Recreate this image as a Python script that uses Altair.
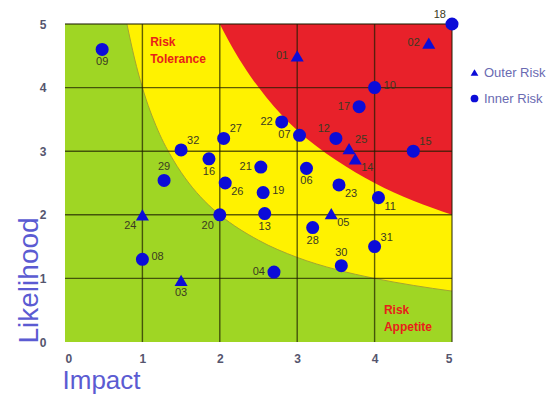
import altair as alt
import pandas as pd

# ---- data ----
ids = ["01","02","03","04","05","06","07","08","09","10","11","12","13","14","15","16",
       "17","18","19","20","21","22","23","24","25","26","27","28","29","30","31","32"]
impact = [3.0, 4.7, 1.5, 2.7, 3.44, 3.12, 3.03, 1.0, 0.48, 4.0, 4.05, 3.5, 2.58, 3.75, 4.5, 1.86,
          3.8, 5.0, 2.56, 2.0, 2.53, 2.8, 3.54, 1.0, 3.67, 2.07, 2.05, 3.2, 1.28, 3.57, 4.0, 1.5]
likelihood = [4.5, 4.7, 0.97, 1.1, 2.02, 2.73, 3.25, 1.3, 4.6, 4.0, 2.27, 3.2, 2.02, 2.88, 3.0, 2.88,
              3.7, 5.0, 2.35, 2.0, 2.75, 3.46, 2.47, 2.0, 3.04, 2.5, 3.2, 1.8, 2.54, 1.2, 1.5, 3.02]
kind = ["Outer Risk","Outer Risk","Outer Risk","Inner Risk","Outer Risk","Inner Risk","Inner Risk","Inner Risk",
        "Inner Risk","Inner Risk","Inner Risk","Inner Risk","Inner Risk","Outer Risk","Inner Risk","Inner Risk",
        "Inner Risk","Inner Risk","Inner Risk","Inner Risk","Inner Risk","Inner Risk","Inner Risk","Outer Risk",
        "Outer Risk","Inner Risk","Inner Risk","Inner Risk","Inner Risk","Inner Risk","Inner Risk","Inner Risk"]
label_side = ["l","l","b","l","lr","b","l","r","b","r","lr","ul","b","lr","ur","b",
              "l","ul","r","ll","l","l","lr","ll","ur","lr","ur","b","a","a","ur","ur"]

# zone boundaries
appetite_x = [0.8, 0.9, 1.0, 1.2, 1.4, 1.6, 1.8, 2.0, 2.5, 3.0, 3.5, 4.0, 4.5, 5.0]
appetite_y = [5.0, 4.45, 4.0, 3.33, 2.86, 2.5, 2.22, 2.0, 1.6, 1.33, 1.14, 1.0, 0.89, 0.8]
tolerance_x = [2.0, 2.2, 2.4, 2.6, 2.8, 3.0, 3.5, 4.0, 4.5, 5.0]
tolerance_y = [5.0, 4.55, 4.17, 3.85, 3.57, 3.33, 2.86, 2.5, 2.22, 2.0]

grid_values = [1, 2, 3, 4, 5]
tick_values = [0, 1, 2, 3, 4, 5]

zone_text = ["Risk\nTolerance", "Risk\nAppetite"]
zone_x = [1.1, 4.12]
zone_y = [4.72, 0.5]

# ---- tables ----
pts = pd.DataFrame({"id": ids, "impact": impact, "likelihood": likelihood,
                    "kind": kind, "side": label_side})
app = pd.DataFrame({"x": appetite_x, "y": appetite_y})
tol = pd.DataFrame({"x": tolerance_x, "y": tolerance_y})
grid = pd.DataFrame({"v": grid_values})
zones = pd.DataFrame({"t": zone_text, "x": zone_x, "y": zone_y})
box = pd.DataFrame({"a": [0]})

FONT = "Liberation Sans"
BLUE = "#0c0cd8"
xs = alt.Scale(domain=[0, 5], nice=False, zero=False)
ys = alt.Scale(domain=[0, 5], nice=False, zero=False)

xaxis = alt.Axis(values=tick_values, grid=False, ticks=False, domain=False, labelPadding=11,
                 labelFontWeight="bold", labelFontSize=12, labelColor="#55556e", labelFont=FONT,
                 title="Impact", titleFont=FONT, titleFontSize=26, titleFontWeight="normal",
                 titleColor="#5b5bd2", titleAlign="left", titleX=-3, titleY=46,
                 titleBaseline="alphabetic")
yaxis = alt.Axis(values=tick_values, grid=False, ticks=False, domain=False, labelPadding=19,
                 labelFontWeight="bold", labelFontSize=12, labelColor="#55556e", labelFont=FONT,
                 title="Likelihood", titleFont=FONT, titleFontSize=28, titleFontWeight="normal",
                 titleColor="#5b5bd2", titleAlign="left", titleAngle=270, titleX=-28, titleY=319,
                 titleBaseline="alphabetic")

green = alt.Chart(box).mark_rect(color="#9fd624").encode(
    x=alt.X(datum=0, type="quantitative", scale=xs, axis=xaxis),
    x2=alt.X2(datum=5),
    y=alt.Y(datum=0, type="quantitative", scale=ys, axis=yaxis),
    y2=alt.Y2(datum=5),
)

yellow = alt.Chart(app).mark_area(color="#fff200", interpolate="monotone").encode(
    x=alt.X("x:Q", scale=xs, axis=xaxis),
    y=alt.Y("y:Q", scale=ys, axis=yaxis),
    y2=alt.Y2(datum=5),
)
yellow_edge = alt.Chart(app).mark_line(color="#a5a530", strokeWidth=1, interpolate="monotone").encode(
    x=alt.X("x:Q", scale=xs, axis=xaxis),
    y=alt.Y("y:Q", scale=ys, axis=yaxis),
)
red = alt.Chart(tol).mark_area(color="#e8212a", interpolate="monotone").encode(
    x=alt.X("x:Q", scale=xs, axis=xaxis),
    y=alt.Y("y:Q", scale=ys, axis=yaxis),
    y2=alt.Y2(datum=5),
)

vrules = alt.Chart(grid).mark_rule(color="#1e1e00", opacity=0.7, strokeWidth=1.4).encode(
    x=alt.X("v:Q", scale=xs, axis=xaxis))
hrules = alt.Chart(grid).mark_rule(color="#1e1e00", opacity=0.7, strokeWidth=1.4).encode(
    y=alt.Y("v:Q", scale=ys, axis=yaxis))

points = alt.Chart(pts).mark_point(filled=True, size=170, opacity=1, color=BLUE).encode(
    x=alt.X("impact:Q", scale=xs, axis=xaxis),
    y=alt.Y("likelihood:Q", scale=ys, axis=yaxis),
    shape=alt.Shape("kind:N",
                    scale=alt.Scale(domain=["Outer Risk", "Inner Risk"],
                                    range=["triangle-up", "circle"]),
                    legend=alt.Legend(title=None, orient="none", legendX=403, legendY=42,
                                      symbolSize=60, symbolFillColor=BLUE, symbolStrokeWidth=0,
                                      labelFont=FONT, labelFontSize=13, labelColor="#6a6ab2",
                                      rowPadding=12, labelOffset=3)),
)

offsets = {
    "r": (9, -2, "left"), "ur": (6, -9, "left"), "lr": (6, 9, "left"),
    "l": (-9, 0, "right"), "ul": (-6, -9, "right"), "ll": (-6, 11, "right"),
    "b": (0, 13, "center"), "a": (0, -13, "center"),
}
label_layers = []
for side, (dx, dy, al) in offsets.items():
    label_layers.append(
        alt.Chart(pts).transform_filter(alt.datum.side == side).mark_text(
            font=FONT, fontSize=11, color="#3a3a22", dx=dx, dy=dy, align=al, baseline="middle"
        ).encode(
            x=alt.X("impact:Q", scale=xs, axis=xaxis),
            y=alt.Y("likelihood:Q", scale=ys, axis=yaxis),
            text="id:N",
        )
    )

zone_labels = alt.Chart(zones).mark_text(
    font=FONT, fontSize=12, fontWeight="bold", color="#e8201a", align="left",
    baseline="middle", lineBreak="\n", lineHeight=17
).encode(
    x=alt.X("x:Q", scale=xs, axis=xaxis),
    y=alt.Y("y:Q", scale=ys, axis=yaxis),
    text="t:N",
)

chart = alt.layer(green, yellow, yellow_edge, red, vrules, hrules, points, *label_layers, zone_labels).properties(
    width=387, height=318,
    autosize=alt.AutoSizeParams(type="none"),
    padding={"left": 57, "top": 16, "right": 97, "bottom": 53},
    background="white",
).configure_view(stroke=None)

chart.save("out.html", embed_options={"renderer": "svg", "actions": False})
